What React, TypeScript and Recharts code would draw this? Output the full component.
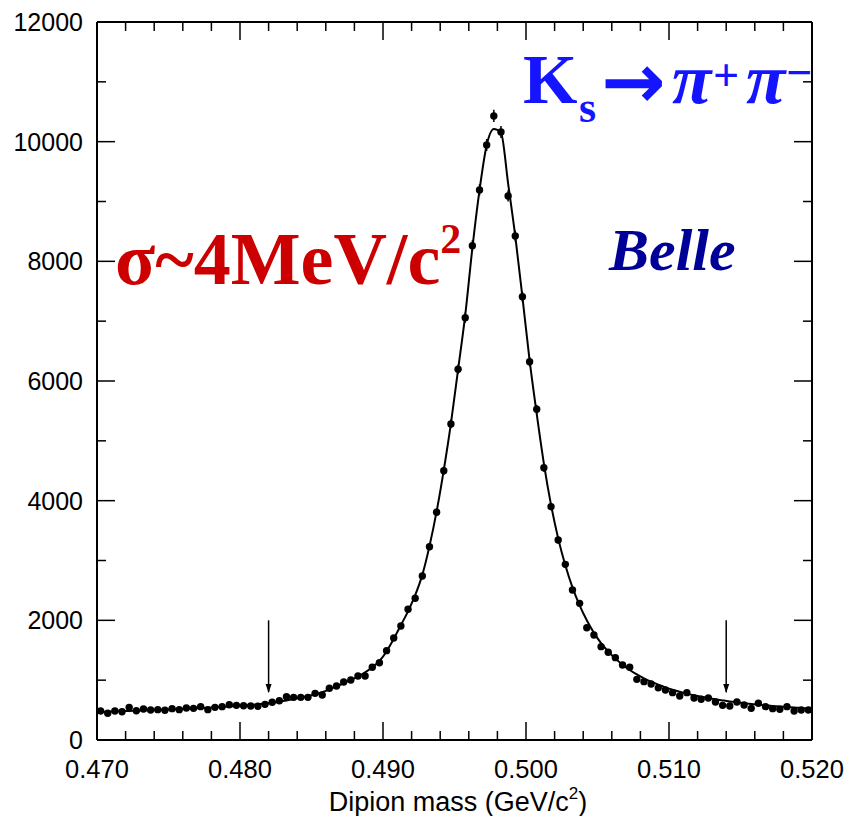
import React from "react";
import {
  ComposedChart,
  Scatter,
  Line,
  XAxis,
  YAxis,
  ErrorBar,
  ReferenceLine,
  ReferenceDot,
  Customized,
} from "recharts";

// bin centres (GeV/c^2), 0.5 MeV bins
const massBins = [
  0.47025, 0.47075, 0.47125, 0.47175, 0.47225, 0.47275, 0.47325, 0.47375, 0.47425, 0.47475,
  0.47525, 0.47575, 0.47625, 0.47675, 0.47725, 0.47775, 0.47825, 0.47875, 0.47925, 0.47975,
  0.48025, 0.48075, 0.48125, 0.48175, 0.48225, 0.48275, 0.48325, 0.48375, 0.48425, 0.48475,
  0.48525, 0.48575, 0.48625, 0.48675, 0.48725, 0.48775, 0.48825, 0.48875, 0.48925, 0.48975,
  0.49025, 0.49075, 0.49125, 0.49175, 0.49225, 0.49275, 0.49325, 0.49375, 0.49425, 0.49475,
  0.49525, 0.49575, 0.49625, 0.49675, 0.49725, 0.49775, 0.49825, 0.49875, 0.49925, 0.49975,
  0.50025, 0.50075, 0.50125, 0.50175, 0.50225, 0.50275, 0.50325, 0.50375, 0.50425, 0.50475,
  0.50525, 0.50575, 0.50625, 0.50675, 0.50725, 0.50775, 0.50825, 0.50875, 0.50925, 0.50975,
  0.51025, 0.51075, 0.51125, 0.51175, 0.51225, 0.51275, 0.51325, 0.51375, 0.51425, 0.51475,
  0.51525, 0.51575, 0.51625, 0.51675, 0.51725, 0.51775, 0.51825, 0.51875, 0.51925, 0.51975,
];

// entries per bin
const counts = [
  485, 446, 485, 473, 546, 490, 518, 501, 507, 496,
  524, 507, 535, 529, 557, 507, 546, 557, 590, 579,
  573, 568, 563, 596, 630, 657, 724, 713, 713, 713,
  780, 752, 864, 903, 969, 1003, 1070, 1070, 1215, 1292,
  1493, 1705, 1905, 2184, 2368, 2741, 3231, 3806, 4501, 5282,
  6196, 7059, 8262, 9193, 9945, 10430, 10162, 9093, 8424, 7409,
  6323, 5527, 4551, 3900, 3343, 2936, 2507, 2284, 1877, 1755,
  1560, 1466, 1376, 1254, 1215, 1014, 975, 936, 872, 836,
  791, 735, 791, 702, 680, 702, 635, 579, 568, 635,
  585, 529, 613, 557, 524, 513, 557, 485, 501, 501,
];

// statistical errors
const errors = [
  22, 21, 22, 22, 23, 22, 23, 22, 23, 22,
  23, 23, 23, 23, 24, 23, 23, 24, 24, 24,
  24, 24, 24, 24, 25, 26, 27, 27, 27, 27,
  28, 27, 29, 30, 31, 32, 33, 33, 35, 36,
  39, 41, 44, 47, 49, 52, 57, 62, 67, 73,
  79, 84, 91, 96, 100, 102, 101, 95, 92, 86,
  80, 74, 67, 62, 58, 54, 50, 48, 43, 42,
  39, 38, 37, 35, 35, 32, 31, 31, 30, 29,
  28, 27, 28, 26, 26, 26, 25, 24, 24, 25,
  24, 23, 25, 24, 23, 23, 24, 22, 22, 22,
];

// fitted curve read at the bin centres
const fitCurve = [
  470, 474, 478, 482, 486, 490, 494, 498, 502, 507,
  512, 517, 522, 528, 534, 540, 547, 554, 562, 568,
  575, 585, 597, 610, 624, 640, 660, 685, 710, 735,
  760, 800, 845, 895, 950, 1005, 1060, 1130, 1215, 1320,
  1480, 1690, 1920, 2150, 2420, 2760, 3240, 3820, 4510, 5290,
  6190, 7100, 8220, 9190, 9940, 10210, 10150, 9300, 8420, 7400,
  6350, 5450, 4620, 3930, 3370, 2920, 2550, 2250, 2000, 1790,
  1620, 1480, 1360, 1260, 1170, 1095, 1030, 975, 925, 880,
  840, 805, 775, 747, 722, 700, 680, 662, 645, 630,
  616, 603, 591, 580, 570, 560, 551, 543, 535, 528,
];

const xTicks = [
  0.47, 0.472, 0.474, 0.476, 0.478, 0.48, 0.482, 0.484, 0.486, 0.488,
  0.49, 0.492, 0.494, 0.496, 0.498, 0.5, 0.502, 0.504, 0.506, 0.508,
  0.51, 0.512, 0.514, 0.516, 0.518, 0.52,
];
const yTicks = [0, 1000, 2000, 3000, 4000, 5000, 6000, 7000, 8000, 9000, 10000, 11000, 12000];

// signal window edges marked by arrows
const arrowMass = [0.482, 0.514];

const rows = massBins.map((m, i) => ({
  m,
  count: counts[i],
  err: errors[i],
  fit: fitCurve[i],
}));

const W = 850;
const H = 816;
const PLOT_TOP = 22;
const PLOT_RIGHT = 812;
const SANS = "'Liberation Sans', Arial, Helvetica, sans-serif";
const SERIF = "'Liberation Serif', 'Times New Roman', Times, serif";
const BLUE = "#1414ff";

const XTick = (props: any) => {
  const { x, y, payload } = props;
  const v = payload.value;
  const major = Math.round(v * 1000) % 10 === 0;
  const len = major ? 18 : 9;
  return (
    <g>
      <line x1={x} y1={y} x2={x} y2={y - len} stroke="#000" strokeWidth={1.5} />
      <line x1={x} y1={PLOT_TOP} x2={x} y2={PLOT_TOP + len} stroke="#000" strokeWidth={1.5} />
      {major && (
        <text x={x} y={y + 38} textAnchor="middle" fontSize={25.5} fontFamily={SANS} fill="#000">
          {v.toFixed(3)}
        </text>
      )}
    </g>
  );
};

const YTick = (props: any) => {
  const { x, y, payload } = props;
  const v = payload.value;
  const major = v % 2000 === 0;
  const len = major ? 18 : 9;
  return (
    <g>
      <line x1={x} y1={y} x2={x + len} y2={y} stroke="#000" strokeWidth={1.5} />
      <line x1={PLOT_RIGHT} y1={y} x2={PLOT_RIGHT - len} y2={y} stroke="#000" strokeWidth={1.5} />
      {major && (
        <text x={x - 14} y={y + 9} textAnchor="end" fontSize={25} fontFamily={SANS} fill="#000">
          {v}
        </text>
      )}
    </g>
  );
};

const Dot = (props: any) => <circle cx={props.cx} cy={props.cy} r={3.7} fill="#000" />;

const ArrowHead = (props: any) => {
  const { cx, cy } = props;
  return <path d={`M${cx - 3},${cy - 9} L${cx + 3},${cy - 9} L${cx},${cy} Z`} fill="#000" />;
};

const Annotations = () => (
  <g>
    <text x={523} y={103} fontSize={70} fontWeight="bold" fontFamily={SERIF} fill={BLUE}>
      K
    </text>
    <text x={579} y={122} fontSize={44} fontWeight="bold" fontFamily={SERIF} fill={BLUE}>
      s
    </text>
    <text
      x={601}
      y={108}
      fontSize={77}
      fontWeight="bold"
      fontFamily="'DejaVu Sans', sans-serif"
      fill={BLUE}
    >
      →
    </text>
    <text
      x={672}
      y={103}
      fontSize={72}
      fontWeight="bold"
      fontStyle="italic"
      fontFamily={SERIF}
      fill={BLUE}
    >
      π
    </text>
    <text x={713} y={91} fontSize={46} fontWeight="bold" fontFamily={SERIF} fill={BLUE}>
      +
    </text>
    <text
      x={746}
      y={103}
      fontSize={72}
      fontWeight="bold"
      fontStyle="italic"
      fontFamily={SERIF}
      fill={BLUE}
    >
      π
    </text>
    <text x={786} y={88} fontSize={46} fontWeight="bold" fontFamily={SERIF} fill={BLUE}>
      −
    </text>

    <text x={115} y={284} fontSize={74} fontWeight="bold" fontFamily={SERIF} fill="#cc0000">
      σ~4MeV/c
      <tspan fontSize={42} dy={-31}>
        2
      </tspan>
    </text>

    <text
      x={609}
      y={270}
      fontSize={60}
      fontWeight="bold"
      fontStyle="italic"
      fontFamily={SERIF}
      fill="#000099"
    >
      Belle
    </text>

    <text x={458} y={811} textAnchor="middle" fontSize={27} fontFamily={SANS} fill="#000">
      Dipion mass (GeV/c
      <tspan fontSize={17} dy={-12}>
        2
      </tspan>
      <tspan dy={12}>)</tspan>
    </text>
  </g>
);

export default function App() {
  // lay the chart out in page pixels
  React.useLayoutEffect(() => {
    document.body.style.margin = "0";
  }, []);

  return (
    <ComposedChart
      width={W}
      height={H}
      data={rows}
      margin={{ top: PLOT_TOP, right: W - PLOT_RIGHT, left: 0, bottom: 0 }}
    >
      <XAxis
        dataKey="m"
        type="number"
        domain={[0.47, 0.52]}
        ticks={xTicks}
        interval={0}
        height={76}
        tickSize={0}
        tickMargin={0}
        tickLine={false}
        tick={<XTick />}
        axisLine={{ stroke: "#000", strokeWidth: 2 }}
        allowDataOverflow
      />
      <YAxis
        type="number"
        domain={[0, 12000]}
        ticks={yTicks}
        interval={0}
        width={97}
        tickSize={0}
        tickMargin={0}
        tickLine={false}
        tick={<YTick />}
        axisLine={{ stroke: "#000", strokeWidth: 2 }}
        allowDataOverflow
      />
      <ReferenceLine y={12000} stroke="#000" strokeWidth={2} />
      <ReferenceLine x={0.52} stroke="#000" strokeWidth={2} />
      {arrowMass.map((m) => (
        <ReferenceLine
          key={`shaft-${m}`}
          segment={[
            { x: m, y: 2000 },
            { x: m, y: 800 },
          ]}
          stroke="#000"
          strokeWidth={1.5}
        />
      ))}
      {arrowMass.map((m) => (
        <ReferenceDot key={`head-${m}`} x={m} y={785} shape={<ArrowHead />} />
      ))}
      <Line
        type="monotone"
        dataKey="fit"
        stroke="#000"
        strokeWidth={2}
        dot={false}
        activeDot={false}
        isAnimationActive={false}
      />
      <Scatter dataKey="count" shape={<Dot />} isAnimationActive={false}>
        <ErrorBar dataKey="err" direction="y" width={0} stroke="#000" strokeWidth={1.5} />
      </Scatter>
      <Customized component={<Annotations />} />
    </ComposedChart>
  );
}
